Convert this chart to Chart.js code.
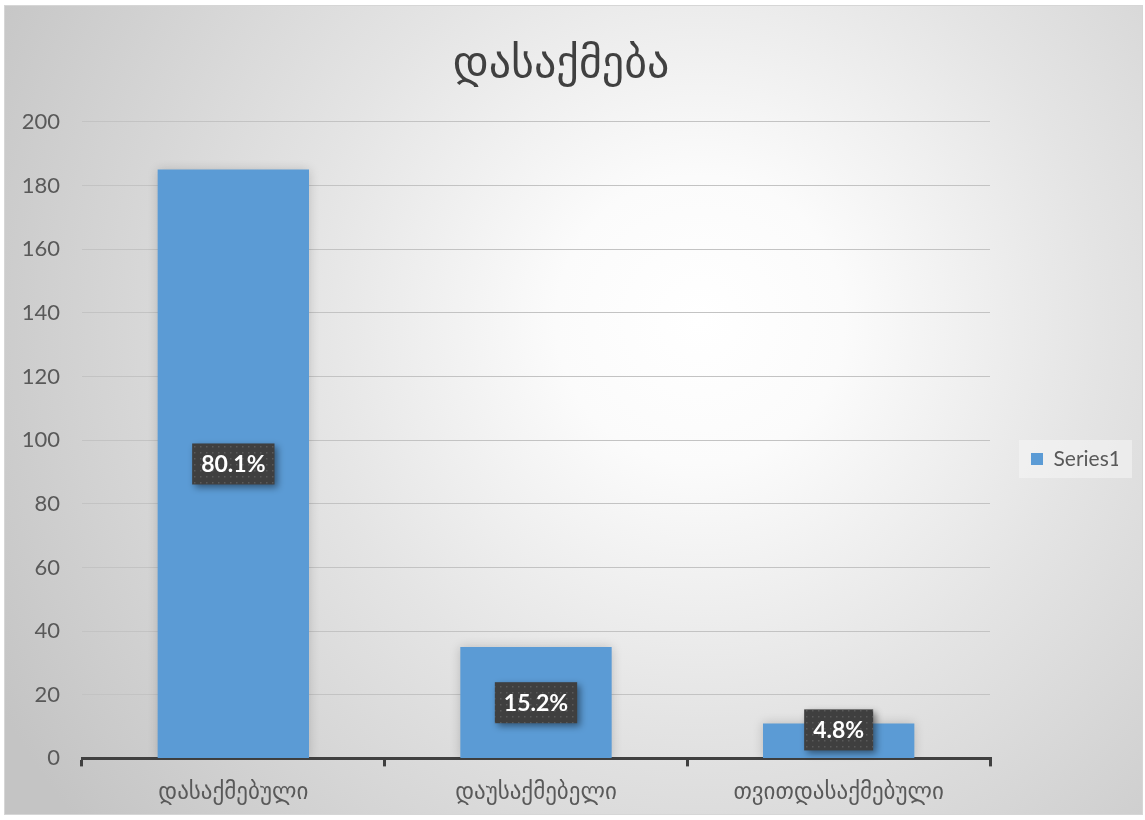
<!DOCTYPE html>
<html>
<head>
<meta charset="utf-8">
<script src="https://cdn.jsdelivr.net/npm/chart.js@4.4.1/dist/chart.umd.min.js"></script>
<style>
  html, body { margin: 0; padding: 0; background: #ffffff; }
  canvas { display: block; }
</style>
</head>
<body>
<canvas id="c" width="1145" height="820"></canvas>
<script>
// ---- data ----
const chartTitle = 'დასაქმება';
const categories = ['დასაქმებული', 'დაუსაქმებელი', 'თვითდასაქმებული'];
const seriesName = 'Series1';
const seriesValues = [185, 35, 11];
const percentLabels = ['80.1%', '15.2%', '4.8%'];
const yTicksMax = 200;
const yTicksStep = 20;

const FONT = "Lato, 'DejaVu Sans', sans-serif";
const GEO_FONT = "'DejaVu Sans', sans-serif";

// background plugin
const bgPlugin = {
  id: 'bg',
  beforeDraw(chart) {
    const ctx = chart.ctx;
    ctx.save();
    ctx.fillStyle = '#ffffff';
    ctx.fillRect(0, 0, chart.width, chart.height);
    const g = ctx.createRadialGradient(700, 320, 0, 700, 320, 800);
    g.addColorStop(0, '#ffffff');
    g.addColorStop(0.18, '#fbfbfb');
    g.addColorStop(0.5, '#e4e4e4');
    g.addColorStop(1, '#c4c4c4');
    ctx.fillStyle = g;
    ctx.fillRect(4, 5, 1139, 810);
    ctx.strokeStyle = '#d6d6d6';
    ctx.lineWidth = 1;
    ctx.strokeRect(4.5, 5.5, 1138, 809);
    // legend background
    const lg = chart.legend;
    if (lg && lg.legendHitBoxes && lg.legendHitBoxes.length) {
      const hb = lg.legendHitBoxes[0];
      const cy = hb.top + hb.height / 2;
      ctx.fillStyle = 'rgba(245,245,245,0.55)';
      ctx.fillRect(hb.left - 12, cy - 19, 113, 38);
    }
    ctx.restore();
  }
};

// bar shadow
const shadowPlugin = {
  id: 'barShadow',
  beforeDatasetsDraw(chart) {
    const ctx = chart.ctx;
    ctx.save();
    ctx.shadowColor = 'rgba(0,0,0,0.18)';
    ctx.shadowBlur = 10;
    ctx.shadowOffsetX = 0;
    ctx.shadowOffsetY = 0;
  },
  afterDatasetsDraw(chart) {
    chart.ctx.restore();
  }
};

// pattern for label boxes
function makePattern(ctx) {
  const p = document.createElement('canvas');
  p.width = 6; p.height = 6;
  const pc = p.getContext('2d');
  pc.fillStyle = '#3f3f3f';
  pc.fillRect(0, 0, 6, 6);
  pc.fillStyle = '#5a5a5a';
  pc.fillRect(2, 2, 1.5, 1.5);
  return ctx.createPattern(p, 'repeat');
}

const labelPlugin = {
  id: 'pctLabels',
  afterDatasetsDraw(chart) {
    const ctx = chart.ctx;
    const meta = chart.getDatasetMeta(0);
    const base = chart.scales.y.getPixelForValue(0);
    const pat = makePattern(ctx);
    ctx.save();
    ctx.font = "bold 23px " + FONT;
    ctx.textAlign = 'center';
    ctx.textBaseline = 'middle';
    meta.data.forEach((bar, i) => {
      const txt = percentLabels[i];
      const tw = ctx.measureText(txt).width;
      const w = tw + 18, h = 41;
      let cy = (bar.y + base) / 2;
      cy = Math.min(cy, base - 8 - h / 2);
      const x = bar.x - w / 2, y = cy - h / 2;
      ctx.save();
      ctx.shadowColor = 'rgba(0,0,0,0.45)';
      ctx.shadowBlur = 7;
      ctx.shadowOffsetX = 3;
      ctx.shadowOffsetY = 3;
      ctx.fillStyle = pat;
      ctx.fillRect(x, y, w, h);
      ctx.restore();
      ctx.fillStyle = '#ffffff';
      ctx.fillText(txt, bar.x, cy + 1);
    });
    ctx.restore();
  }
};

const PAD_LEFT = 4;
const PAD_RIGHT = 27;

new Chart(document.getElementById('c'), {
  type: 'bar',
  data: {
    labels: categories,
    datasets: [{
      label: seriesName,
      data: seriesValues,
      backgroundColor: '#5b9bd5',
      borderWidth: 0,
      categoryPercentage: 1.0,
      barPercentage: 0.5
    }]
  },
  options: {
    responsive: false,
    devicePixelRatio: 1,
    animation: false,
    layout: { padding: { top: 15, left: PAD_LEFT, right: PAD_RIGHT, bottom: 0 } },
    plugins: {
      title: {
        display: true,
        text: chartTitle,
        color: '#404040',
        font: { family: GEO_FONT, size: 44, weight: 'normal' },
        padding: { top: 24, bottom: 30 }
      },
      legend: {
        display: true,
        position: 'right',
        maxWidth: 128,
        title: { display: true, text: ' ', font: { size: 10 }, padding: { top: 71, bottom: 0 } },
        labels: {
          boxWidth: 12,
          boxHeight: 12,
          color: '#595959',
          font: { family: FONT, size: 21 },
          padding: 41
        }
      },
      tooltip: { enabled: false }
    },
    scales: {
      x: {
        offset: true,
        grid: {
          display: true,
          offset: true,
          drawOnChartArea: false,
          drawTicks: true,
          tickLength: 8,
          color: '#404040',
          lineWidth: 3
        },
        border: { display: true, color: '#404040', width: 3 },
        ticks: {
          color: '#595959',
          font: { family: GEO_FONT, size: 23 },
          padding: 13
        }
      },
      y: {
        min: 0,
        max: yTicksMax,
        afterFit(s) { s.width = 82 - PAD_LEFT; },
        grid: { color: '#c3c3c3', lineWidth: 1, drawTicks: false },
        border: { display: false },
        ticks: {
          stepSize: yTicksStep,
          color: '#595959',
          font: { family: FONT, size: 22 },
          padding: 22
        }
      }
    }
  },
  plugins: [bgPlugin, shadowPlugin, labelPlugin]
});
</script>
</body>
</html>
